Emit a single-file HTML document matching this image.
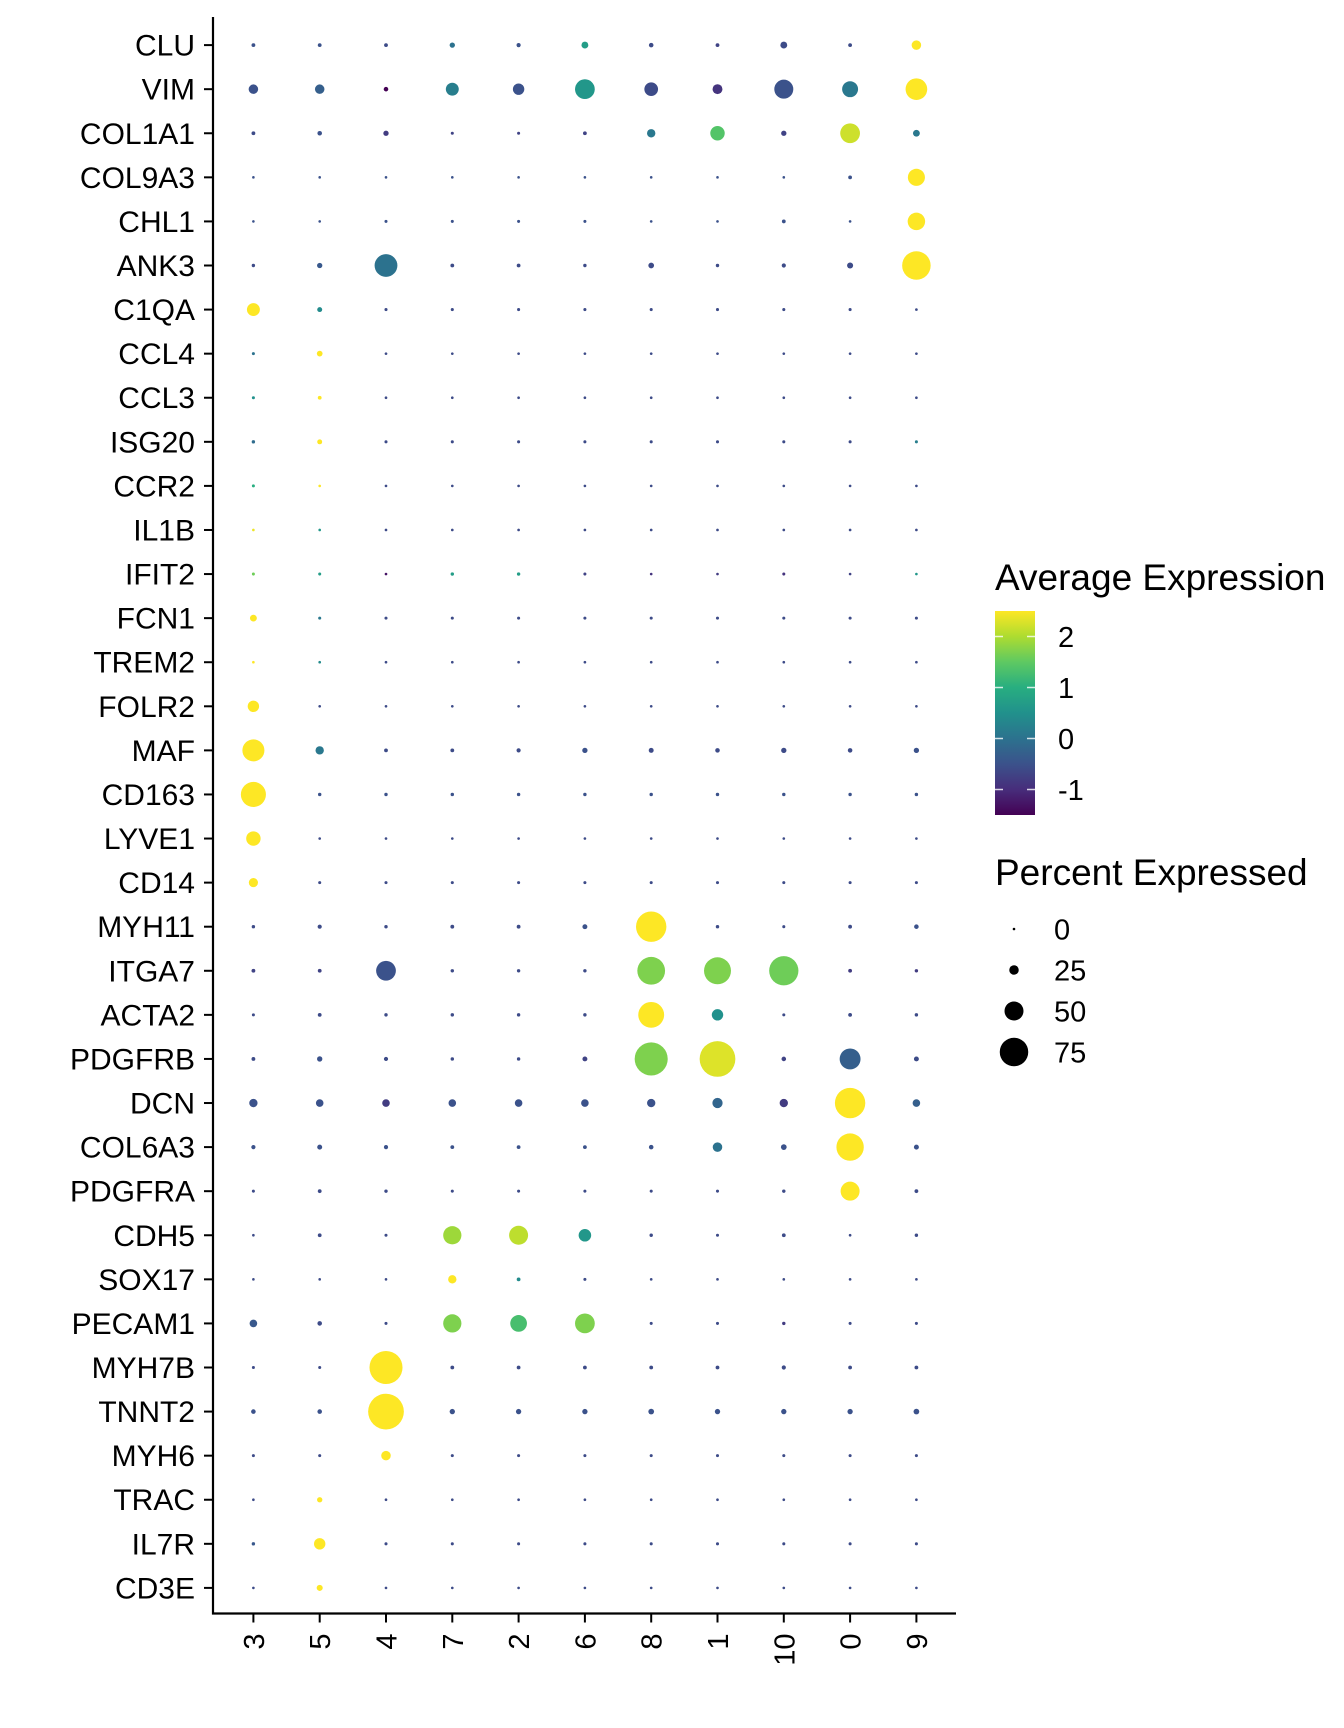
<!DOCTYPE html>
<html><head><meta charset="utf-8"><style>
html,body{margin:0;padding:0;background:#fff;}
svg{display:block;font-family:"Liberation Sans",Arial,sans-serif;}
</style></head><body>
<svg id="chart" width="1344" height="1728" viewBox="0 0 1344 1728">
<defs>
<linearGradient id="vgrad" x1="0" y1="1" x2="0" y2="0">
<stop offset="0" stop-color="#440154"/><stop offset="0.125" stop-color="#472d7b"/><stop offset="0.25" stop-color="#3b528b"/><stop offset="0.375" stop-color="#2c728e"/><stop offset="0.5" stop-color="#21918c"/><stop offset="0.625" stop-color="#28ae80"/><stop offset="0.75" stop-color="#5ec962"/><stop offset="0.875" stop-color="#addc30"/><stop offset="1" stop-color="#fde725"/>
</linearGradient>
</defs>
<g id="plot"></g>
<g id="legend"></g>
</svg>
<script>
const genes = ["CLU","VIM","COL1A1","COL9A3","CHL1","ANK3","C1QA","CCL4","CCL3","ISG20","CCR2","IL1B","IFIT2","FCN1","TREM2","FOLR2","MAF","CD163","LYVE1","CD14","MYH11","ITGA7","ACTA2","PDGFRB","DCN","COL6A3","PDGFRA","CDH5","SOX17","PECAM1","MYH7B","TNNT2","MYH6","TRAC","IL7R","CD3E"];
const clusters = ["3","5","4","7","2","6","8","1","10","0","9"];
const pctExpressed = [
[10,10,10,14,11,18,12,10,18,10,25],
[25,25,12,34,30,52,36,26,50,42,57],
[10,12,14,8,8,10,22,38,14,52,18],
[6,6,6,6,6,6,6,6,6,10,45],
[6,6,8,8,8,8,7,7,10,7,46],
[9,14,60,10,10,9,15,9,11,16,75],
[34,13,8,8,8,8,8,8,8,8,7],
[8,15,7,7,7,7,7,7,7,7,7],
[8,10,7,7,7,7,7,7,7,7,7],
[9,13,8,8,8,8,8,8,8,8,8],
[8,7,7,7,7,7,7,7,7,7,7],
[7,6,7,7,7,7,7,7,7,7,7],
[8,8,7,9,9,8,7,7,8,7,7],
[18,8,8,8,8,8,8,8,8,8,8],
[7,7,7,7,7,7,7,7,7,7,7],
[30,7,7,7,7,7,7,7,7,7,7],
[58,22,10,10,11,14,13,12,14,12,14],
[66,9,9,9,9,9,9,9,9,9,9],
[38,7,7,7,7,7,7,7,7,7,7],
[24,8,8,8,8,8,8,8,8,8,8],
[9,11,9,10,10,13,80,9,8,10,12],
[10,10,52,9,9,9,73,71,77,10,9],
[8,10,9,9,9,9,68,30,8,10,9],
[10,14,11,9,9,13,87,94,12,55,13],
[22,20,20,20,20,20,22,27,22,80,20],
[11,13,11,10,10,10,12,25,15,72,13],
[8,10,9,8,8,8,8,8,9,50,10],
[7,10,8,48,50,33,9,8,10,7,9],
[6,6,6,22,10,8,7,7,7,7,7],
[20,12,8,48,44,52,8,8,9,8,8],
[8,8,87,10,10,10,10,10,11,10,10],
[12,12,94,14,14,14,15,14,14,14,15],
[8,8,25,8,8,8,8,8,8,8,8],
[7,14,7,7,7,7,7,7,7,7,7],
[9,30,8,8,8,8,8,8,8,8,8],
[7,16,7,7,7,7,7,7,7,7,7]
];
const avgExpression = [
[-0.5,-0.5,-0.6,0.0,-0.5,0.7,-0.6,-0.7,-0.6,-0.6,2.5],
[-0.5,-0.3,-1.5,0.2,-0.5,0.6,-0.6,-0.9,-0.5,0.1,2.5],
[-0.6,-0.5,-0.8,-0.7,-0.7,-0.7,0.1,1.4,-0.7,2.2,0.1],
[-0.5,-0.5,-0.5,-0.5,-0.5,-0.5,-0.5,-0.5,-0.5,-0.5,2.5],
[-0.5,-0.5,-0.5,-0.5,-0.5,-0.5,-0.5,-0.5,-0.5,-0.5,2.5],
[-0.6,-0.4,0.0,-0.6,-0.6,-0.6,-0.6,-0.6,-0.6,-0.6,2.5],
[2.5,0.4,-0.6,-0.6,-0.6,-0.6,-0.6,-0.6,-0.6,-0.6,-0.6],
[0.0,2.5,-0.6,-0.6,-0.6,-0.6,-0.6,-0.6,-0.6,-0.6,-0.6],
[0.5,2.5,-0.6,-0.6,-0.6,-0.6,-0.6,-0.6,-0.6,-0.6,-0.6],
[-0.1,2.5,-0.6,-0.6,-0.6,-0.6,-0.6,-0.6,-0.6,-0.6,0.2],
[1.0,2.5,-0.6,-0.6,-0.6,-0.6,-0.6,-0.6,-0.6,-0.6,-0.6],
[2.4,0.6,-0.6,-0.6,-0.6,-0.6,-0.6,-0.6,-0.6,-0.6,-0.6],
[1.6,0.7,-1.3,0.7,0.7,-0.7,-0.9,-0.8,-0.9,-0.7,0.6],
[2.5,0.1,-0.6,-0.6,-0.6,-0.6,-0.6,-0.6,-0.6,-0.6,-0.6],
[2.5,0.4,-0.6,-0.6,-0.6,-0.6,-0.6,-0.6,-0.6,-0.6,-0.6],
[2.5,-0.6,-0.6,-0.6,-0.6,-0.6,-0.6,-0.6,-0.6,-0.6,-0.6],
[2.5,0.1,-0.6,-0.6,-0.6,-0.5,-0.6,-0.6,-0.6,-0.6,-0.5],
[2.5,-0.5,-0.5,-0.5,-0.5,-0.5,-0.5,-0.5,-0.5,-0.5,-0.5],
[2.5,-0.6,-0.6,-0.6,-0.6,-0.6,-0.6,-0.6,-0.6,-0.6,-0.6],
[2.5,-0.6,-0.6,-0.6,-0.6,-0.6,-0.6,-0.6,-0.6,-0.6,-0.6],
[-0.6,-0.6,-0.6,-0.6,-0.6,-0.5,2.5,-0.6,-0.6,-0.6,-0.5],
[-0.7,-0.7,-0.5,-0.6,-0.6,-0.6,1.7,1.7,1.6,-0.8,-0.8],
[-0.6,-0.6,-0.6,-0.6,-0.6,-0.6,2.5,0.5,-0.6,-0.6,-0.6],
[-0.6,-0.5,-0.6,-0.6,-0.6,-0.7,1.7,2.3,-0.7,-0.3,-0.6],
[-0.5,-0.5,-0.8,-0.5,-0.5,-0.5,-0.5,-0.2,-0.8,2.5,-0.3],
[-0.5,-0.5,-0.5,-0.5,-0.5,-0.5,-0.5,0.0,-0.5,2.5,-0.5],
[-0.6,-0.6,-0.6,-0.6,-0.6,-0.6,-0.6,-0.6,-0.6,2.5,-0.6],
[-0.6,-0.6,-0.6,1.9,2.1,0.6,-0.6,-0.6,-0.6,-0.6,-0.6],
[-0.6,-0.6,-0.6,2.5,0.4,-0.6,-0.6,-0.6,-0.6,-0.6,-0.6],
[-0.4,-0.6,-0.6,1.7,1.3,1.7,-0.6,-0.6,-0.8,-0.6,-0.6],
[-0.6,-0.6,2.5,-0.6,-0.6,-0.6,-0.6,-0.6,-0.6,-0.6,-0.6],
[-0.5,-0.5,2.5,-0.5,-0.5,-0.5,-0.5,-0.5,-0.5,-0.5,-0.5],
[-0.6,-0.6,2.5,-0.6,-0.6,-0.6,-0.6,-0.6,-0.6,-0.6,-0.6],
[-0.6,2.5,-0.6,-0.6,-0.6,-0.6,-0.6,-0.6,-0.6,-0.6,-0.6],
[-0.4,2.5,-0.6,-0.6,-0.6,-0.6,-0.6,-0.6,-0.6,-0.6,-0.6],
[-0.6,2.5,-0.6,-0.6,-0.6,-0.6,-0.6,-0.6,-0.6,-0.6,-0.6]
];
const colorTicks = [2,1,0,-1];
const sizeTicks = [0,25,50,75];

const NS = "http://www.w3.org/2000/svg";
const plot = document.getElementById('plot');
const legend = document.getElementById('legend');
const AX_L = 213, AX_B = 1613.5, AX_T = 17, AX_R = 956;
const X0 = 253.4, DX = 66.3, Y0 = 45.1, DY = 44.08;
const xPos = i => X0 + i * DX;
const yPos = j => Y0 + j * DY;
const rScale = p => Math.max(1.3, 0.19 * p);
const stops = ["#440154","#472d7b","#3b528b","#2c728e","#21918c","#28ae80","#5ec962","#addc30","#fde725"];
function hex(h){return [1,3,5].map(k=>parseInt(h.substr(k,2),16));}
function viridis(v){
  let t = (Math.min(2.5, Math.max(-1.5, v)) + 1.5) / 4;
  const f = t * 8, i = Math.min(7, Math.floor(f)), u = f - i;
  const a = hex(stops[i]), b = hex(stops[i+1]);
  return "rgb(" + a.map((c,k)=>Math.round(c+(b[k]-c)*u)).join(",") + ")";
}
const cbTop = 611, cbPerUnit = 51, cbMax = 2.5;
const cbY = v => cbTop + (cbMax - v) * cbPerUnit;
function mk(tag, attrs, parent){
  const e = document.createElementNS(NS, tag);
  for (const k in attrs) e.setAttribute(k, attrs[k]);
  parent.appendChild(e); return e;
}
const yAxis = mk('line',{x1:AX_L,y1:AX_T,x2:AX_L,y2:AX_B+1,stroke:'#000','stroke-width':2.2},plot);


const xAxis = mk('line',{x1:AX_L-1,y1:AX_B,x2:AX_R,y2:AX_B,stroke:'#000','stroke-width':2.2},plot);


genes.forEach((g,j)=>{
  const y = yPos(j);
  const tk = mk('line',{x1:AX_L-9,y1:y,x2:AX_L,y2:y,stroke:'#000','stroke-width':2},plot);
  
  
  const t = mk('text',{x:AX_L-18,y:y+10.5,'text-anchor':'end','font-size':30,fill:'#000'},plot);
  t.textContent = g;
  
  
});
clusters.forEach((c,i)=>{
  const x = xPos(i);
  const tk = mk('line',{x1:x,y1:AX_B,x2:x,y2:AX_B+9,stroke:'#000','stroke-width':2},plot);
  
  
  const t = mk('text',{transform:`translate(${x+10.5},${AX_B+20}) rotate(-90)`,'text-anchor':'end','font-size':29,fill:'#000'},plot);
  t.textContent = c;
  
  
});
genes.forEach((g,j)=>{
  clusters.forEach((c,i)=>{
    const d = mk('circle',{cx:xPos(i),cy:yPos(j),r:rScale(pctExpressed[j][i]),fill:viridis(avgExpression[j][i])},plot);
    
    
  });
});
const t1 = mk('text',{x:995,y:590,'font-size':37,fill:'#000'},legend);
t1.textContent = 'Average Expression';


const bar = mk('rect',{x:995,y:cbTop,width:40,height:cbPerUnit*4,fill:'url(#vgrad)'},legend);


colorTicks.forEach(v=>{
  const y = cbY(v);
  mk('line',{x1:995,y1:y,x2:1003,y2:y,stroke:'#fff','stroke-width':1.5,opacity:0.8},legend);
  mk('line',{x1:1027,y1:y,x2:1035,y2:y,stroke:'#fff','stroke-width':1.5,opacity:0.8},legend);
  const t = mk('text',{x:1058,y:y+10.5,'font-size':29,fill:'#000'},legend);
  t.textContent = (v<0?'-':'') + Math.abs(v);
  
  
});
const t2 = mk('text',{x:995,y:885,'font-size':37,fill:'#000'},legend);
t2.textContent = 'Percent Expressed';


sizeTicks.forEach((p,k)=>{
  const y = 929 + k*41;
  const d = mk('circle',{cx:1014,cy:y,r:rScale(p),fill:'#000'},legend);
  
  
  const t = mk('text',{x:1054,y:y+10.5,'font-size':29,fill:'#000'},legend);
  t.textContent = p;
  
  
});
</script>
</body></html>
